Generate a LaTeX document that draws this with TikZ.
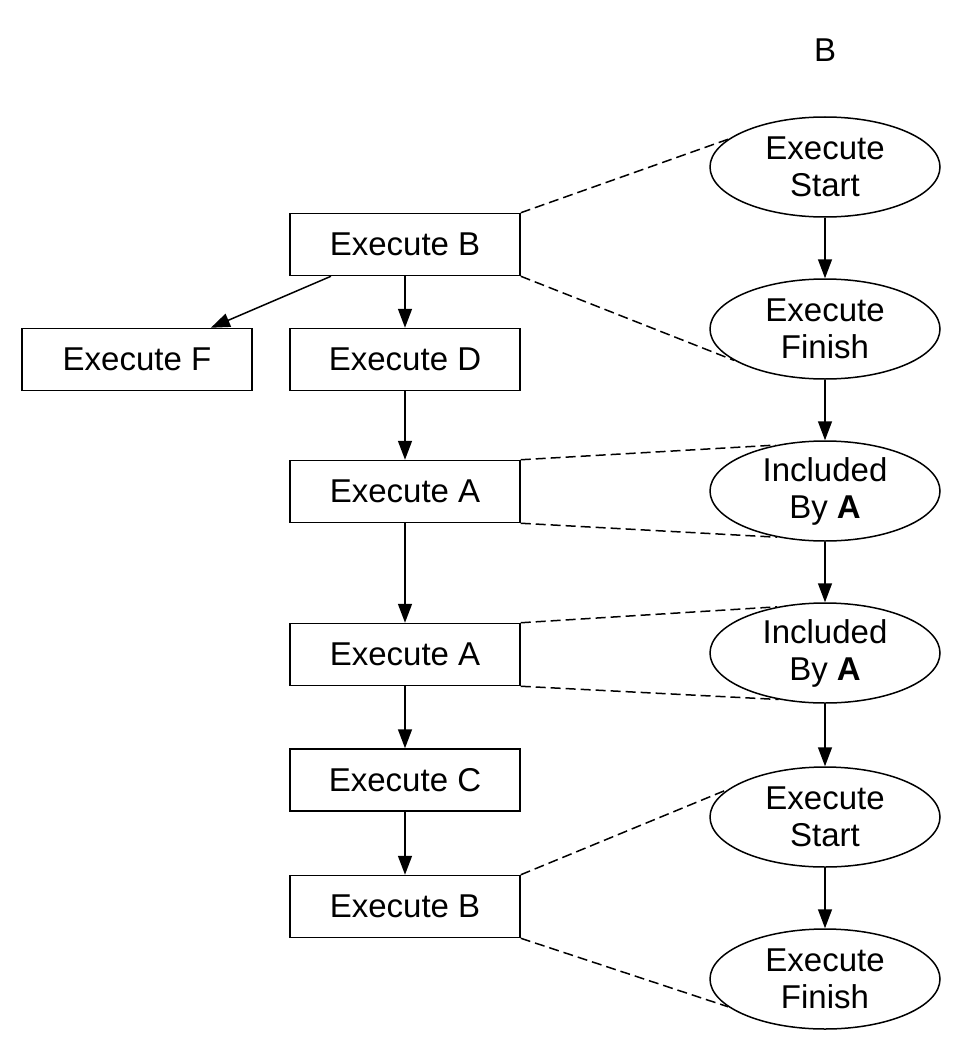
\documentclass[tikz,border=0pt]{standalone}
\usepackage{fontspec}
\setmainfont{Liberation Sans}
\usetikzlibrary{shapes.geometric,arrows.meta}
\tikzset{
  box/.style={draw, line width=1.5pt, minimum width=230pt, minimum height=62pt, inner sep=0pt},
  oval/.style={draw, ellipse, line width=1.5pt, minimum width=230pt, minimum height=100pt, inner sep=0pt},
  txt/.style={font=\fontsize{33}{37}\selectfont, align=center},
  arr/.style={line width=1.5pt, -{Triangle[length=19pt,width=14pt]}},
  dsh/.style={line width=1.5pt, dash pattern=on 10pt off 5pt}
}
\begin{document}
\begin{tikzpicture}[x=1pt,y=-1pt,every node/.style={txt}]
\useasboundingbox (0,0) rectangle (962,1054);
\node (title) at (825,50) {B};
% left column
\node[box] (b1) at (405,244.5) {Execute B};
\node[box] (f) at (137,359.5) {Execute F};
\node[box] (d) at (405,359.5) {Execute D};
\node[box] (a1) at (405,491.5) {Execute A};
\node[box] (a2) at (405,654.5) {Execute A};
\node[box] (c) at (405,780) {Execute C};
\node[box] (b2) at (405,906.5) {Execute B};
% right column
\node[oval] (e1) at (825,167) {};
\node[txt] (e1t) at (e1.center) {Execute\\Start};
\node[oval] (e2) at (825,329) {};
\node[txt] (e2t) at (e2.center) {Execute\\Finish};
\node[oval] (e3) at (825,491) {};
\node[txt] (e3t) at (e3.center) {Included\\By \textbf{A}};
\node[oval] (e4) at (825,653) {};
\node[txt] (e4t) at (e4.center) {Included\\By \textbf{A}};
\node[oval] (e5) at (825,817) {};
\node[txt] (e5t) at (e5.center) {Execute\\Start};
\node[oval] (e6) at (825,979) {};
\node[txt] (e6t) at (e6.center) {Execute\\Finish};
% arrows left
\draw[arr] (b1) -- (f);
\draw[arr] (b1) -- (d);
\draw[arr] (d) -- (a1);
\draw[arr] (a1) -- (a2);
\draw[arr] (a2) -- (c);
\draw[arr] (c) -- (b2);
% arrows right
\draw[arr] (e1) -- (e2);
\draw[arr] (e2) -- (e3);
\draw[arr] (e3) -- (e4);
\draw[arr] (e4) -- (e5);
\draw[arr] (e5) -- (e6);
% dashed
\draw[dsh] (b1.north east) -- (e1.164);
\draw[dsh] (b1.south east) -- (e2.199);
\draw[dsh] (a1.north east) -- (e3.137);
\draw[dsh] (a1.south east) -- (e3.224);
\draw[dsh] (a2.north east) -- (e4.136);
\draw[dsh] (a2.south east) -- (e4.225);
\draw[dsh] (b2.north east) -- (e5.164);
\draw[dsh] (b2.south east) -- (e6.196);
\end{tikzpicture}
\end{document}
